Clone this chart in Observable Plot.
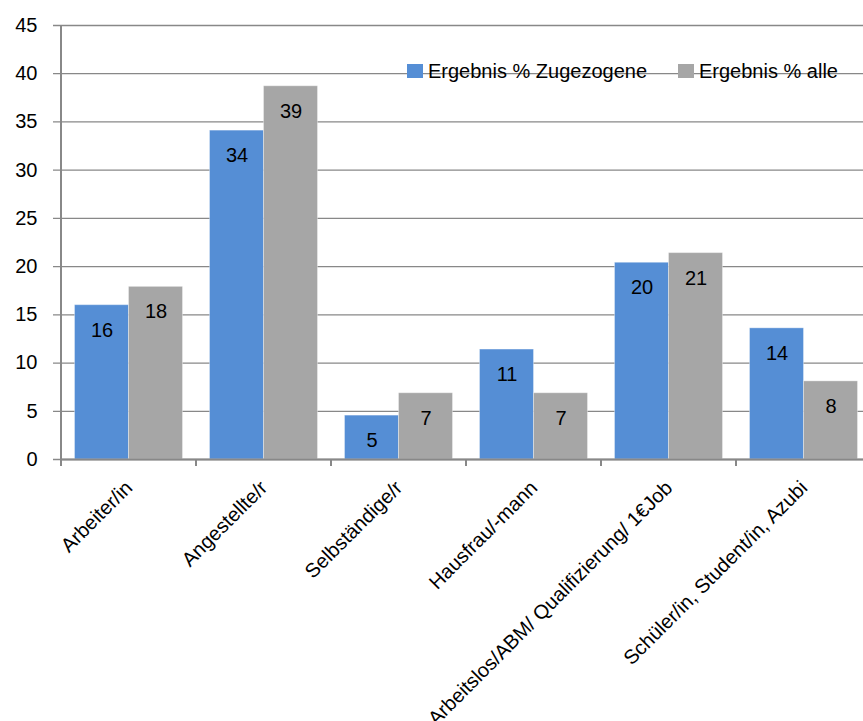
<!DOCTYPE html>
<html><head><meta charset="utf-8">
<script src="https://cdn.jsdelivr.net/npm/d3@7"></script>
<script src="https://cdn.jsdelivr.net/npm/@observablehq/plot@0.6"></script>
<style>
body{margin:0;overflow:hidden;background:#fff;font-family:"Liberation Sans",Arial,sans-serif}
#wrap{position:relative;width:863px;height:721px;overflow:hidden}
#chart svg{max-width:none !important}
.item{position:absolute;top:59px;display:flex;align-items:center;font-size:20px;line-height:24px;color:#000;white-space:nowrap}
.sw{width:16px;height:14px;display:inline-block;margin-right:5px}
</style></head><body><div id="wrap"><div id="chart"></div><div id="legend"></div></div>
<script>
const categories = ["Arbeiter/in","Angestellte/r","Selbständige/r","Hausfrau/-mann","Arbeitslos/ABM/ Qualifizierung/ 1€Job","Schüler/in, Student/in, Azubi"];
const seriesNames = ["Ergebnis % Zugezogene","Ergebnis % alle"];
const zugezogene = [16.0, 34.1, 4.55, 11.4, 20.4, 13.6];
const alle = [17.9, 38.7, 6.87, 6.87, 21.4, 8.1];
const yTicks = [0,5,10,15,20,25,30,35,40,45];
const colors = ["#558ED5","#A6A6A6"];

const W = 875, H = 721, ML = 61, MR = 4, MT = 25, MB = 262;
const step = (W - ML - MR) / categories.length;
const rowsZ = categories.map((c,i) => ({cat: c, series: seriesNames[0], v: zugezogene[i]}));
const rowsA = categories.map((c,i) => ({cat: c, series: seriesNames[1], v: alle[i]}));
const axisColor = "#888888";

function boundaryTicks(index, scales) {
  const g = d3.create("svg:g").attr("stroke", axisColor).attr("stroke-width", 2);
  const x = scales.x, y = scales.y;
  const xs = categories.map(c => x(c)).concat([x(categories[categories.length-1]) + x.bandwidth()]);
  for (const px of xs) {
    g.append("line").attr("x1", px).attr("x2", px).attr("y1", y(0)).attr("y2", y(0) + 7);
  }
  g.append("line").attr("x1", x(categories[0])).attr("x2", x(categories[0]))
    .attr("y1", y(yTicks[yTicks.length-1])).attr("y2", y(0));
  return g.node();
}

const chart = Plot.plot({
  width: W, height: H,
  marginLeft: ML, marginRight: MR, marginTop: MT, marginBottom: MB,
  style: {fontFamily: "Liberation Sans, Arial, sans-serif", fontSize: "20px", color: "#000", background: "#fff", maxWidth: "none"},
  x: {domain: categories, padding: 0, axis: null},
  y: {domain: [0, 45], axis: null},
  marks: [
    Plot.ruleY(yTicks, {stroke: axisColor, strokeWidth: 1.3, insetLeft: -8}),
    Plot.barY(rowsZ, {x: "cat", y: "v", fill: colors[0], insetLeft: step*0.1, insetRight: step*0.5, stroke: "#fff", strokeOpacity: 0.35, strokeWidth: 1}),
    Plot.barY(rowsA, {x: "cat", y: "v", fill: colors[1], insetLeft: step*0.5, insetRight: step*0.1, stroke: "#fff", strokeOpacity: 0.35, strokeWidth: 1}),
    Plot.ruleY([0], {stroke: axisColor, strokeWidth: 2}),
    boundaryTicks,
    Plot.text(rowsZ, {x: "cat", y: "v", text: d => String(Math.round(d.v)), dx: -step*0.2, dy: 25, fill: "#000", fontSize: 20}),
    Plot.text(rowsA, {x: "cat", y: "v", text: d => String(Math.round(d.v)), dx: step*0.2, dy: 25, fill: "#000", fontSize: 20}),
    Plot.axisY({ticks: yTicks, tickSize: 0, tickPadding: 24, fontSize: 20, tickFormat: d => String(d), label: null}),
    Plot.axisX({tickSize: 0, tickRotate: -45, tickPadding: 25, dx: 0, fontSize: 20, label: null})
  ]
});
chart.style.maxWidth = "none";
document.getElementById("chart").appendChild(chart);

const legend = document.getElementById("legend");
const legendLeft = [407, 678];
seriesNames.forEach((s, i) => {
  const it = document.createElement("div");
  it.className = "item";
  it.style.left = legendLeft[i] + "px";
  it.innerHTML = `<span class="sw" style="background:${colors[i]}"></span><span>${s}</span>`;
  legend.appendChild(it);
});
</script>
</body></html>
